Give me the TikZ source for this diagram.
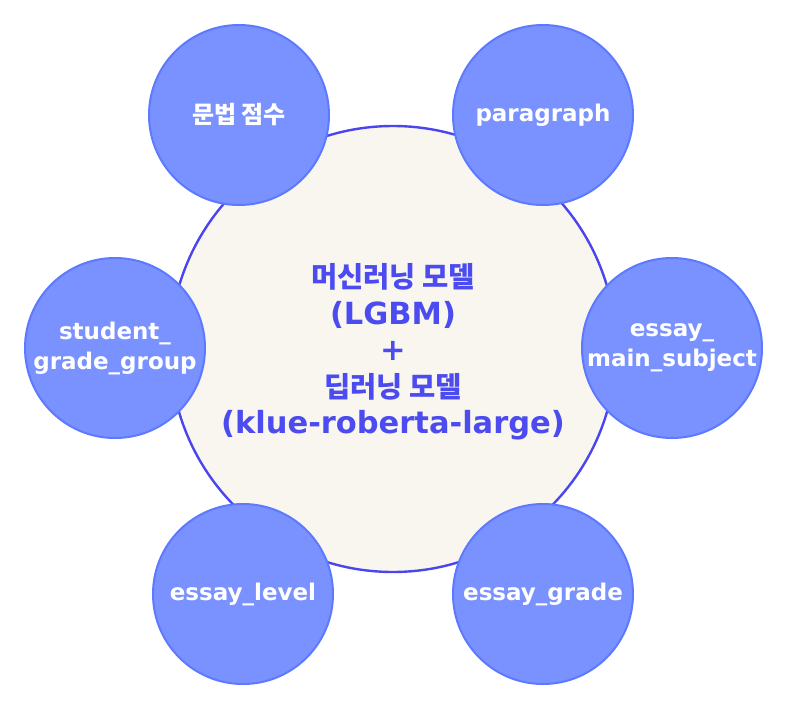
\documentclass[tikz,border=0pt]{standalone}
\usepackage{fontspec}
\setmainfont{DejaVu Sans}
\newfontfamily\kr{Noto Sans CJK KR}
\usetikzlibrary{calc}
\definecolor{hubfill}{HTML}{F8F6EE}
\definecolor{hubline}{HTML}{4A45EE}
\definecolor{hubtext}{HTML}{4B4BF0}
\definecolor{featfill}{HTML}{7A92FF}
\definecolor{featline}{HTML}{5D79FF}

\begin{document}
\begin{tikzpicture}[x=1pt,y=-1pt,
	hub/.style={circle, draw=hubline, line width=2.4pt, fill=hubfill, minimum size=446pt, inner sep=0pt},
	hubtxt/.style={text=hubtext, align=center, font=\bfseries\fontsize{30.5}{36.5}\selectfont},
	feat/.style={circle, draw=featline, line width=2pt, fill=featfill, minimum size=180pt, inner sep=0pt,
		text=white, align=center, font=\bfseries\fontsize{23}{30}\selectfont}]
			%%%%% START %%%%%
			
			\useasboundingbox (0,0) rectangle (789,704);
			
			\node[hub] (model) at (393,349) {};
			\node[hubtxt] (modeltxt) at (393,352) {%
				{\kr\fontsize{28.5}{36.5}\selectfont 머신러닝 모델}\\
				(LGBM)\\
				+\\
				{\kr\fontsize{28.5}{36.5}\selectfont 딥러닝 모델}\\
				(klue-roberta-large)};
			
			\node[feat] (grammar) at (239,115) {{\kr\fontsize{24}{30}\selectfont 문법 점수}};
			\node[feat] (para) at (543,115) {paragraph};
			
			\node[feat] (group) at (115,348) {student\_\\grade\_group};
			\node[feat] (subject) at (672,348) {essay\_\\main\_subject};
			
			\node[feat] (level) at (243,594) {essay\_level};
			\node[feat] (grade) at (543,594) {essay\_grade};
			
			%%%%% END %%%%%
\end{tikzpicture}
\end{document}
